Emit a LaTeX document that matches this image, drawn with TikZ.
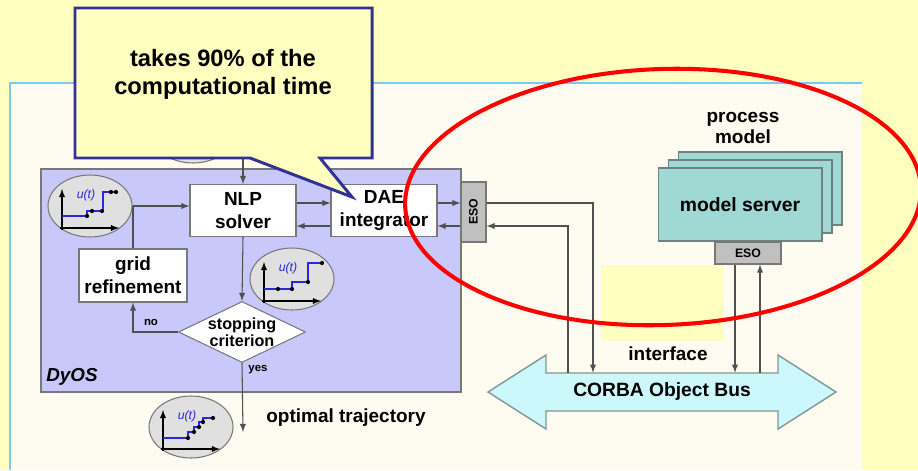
\documentclass[tikz,border=0pt]{standalone}
\usepackage{fontspec}
\setmainfont{Liberation Sans}
\usepackage{tikz}
\usetikzlibrary{shapes.geometric,arrows}
\definecolor{bgyellow}{RGB}{255,255,192}
\definecolor{panelcream}{RGB}{254,252,240}
\definecolor{panelblue}{RGB}{120,200,250}
\definecolor{dyoslilac}{RGB}{200,200,250}
\definecolor{boxgray}{RGB}{120,120,120}
\definecolor{linegray}{RGB}{80,80,80}
\definecolor{esogray}{RGB}{192,192,192}
\definecolor{plotgray}{RGB}{224,224,224}
\definecolor{serverteal}{RGB}{160,216,212}
\definecolor{serverline}{RGB}{110,130,130}
\definecolor{buscyan}{RGB}{204,248,252}
\definecolor{busline}{RGB}{130,150,150}
\definecolor{calloutblue}{RGB}{50,50,150}
\definecolor{utblue}{RGB}{40,40,220}

% small u(t) sketch: name, centre, step points, dots
\newcommand{\utplot}[4]{%
    \node[plotbg] (#1) at (#2) {};
    \begin{scope}[shift={(#2)}]
        \draw[axis,->] (-28,24) -- (-28,-17);
        \draw[axis,->] (-30,22) -- (29,22);
        \node[utlabel] at (-4,-11) {u(t)};
        \draw[stepline] #3;
        \foreach \p in {#4} \fill[black] (\p) circle[radius=1.2pt];
    \end{scope}}

\begin{document}
\begin{tikzpicture}[x=0.02cm,y=-0.02cm,>=latex,
    link/.style={draw=linegray,line width=0.6pt},
    box/.style={rectangle,draw=boxgray,fill=white,line width=0.6pt,minimum width=2.12cm,minimum height=1.04cm,inner sep=0pt,align=center,font=\bfseries\fontsize{10.8}{13}\selectfont},
    eso/.style={rectangle,draw=boxgray,fill=esogray,line width=0.6pt,inner sep=0pt,font=\bfseries\fontsize{7}{8}\selectfont},
    decide/.style={diamond,draw=boxgray,fill=white,line width=0.6pt,aspect=2.08,minimum width=2.54cm,minimum height=1.22cm,inner sep=-1.5pt,align=center,font=\bfseries\fontsize{9.2}{9.8}\selectfont},
    plotbg/.style={ellipse,draw=boxgray,fill=plotgray,line width=0.6pt,minimum width=1.68cm,minimum height=1.24cm,inner sep=0pt},
    axis/.style={draw=black,line width=0.6pt},
    stepline/.style={draw=utblue,line width=1.1pt},
    utlabel/.style={text=utblue,font=\itshape\fontsize{7}{8}\selectfont},
    server/.style={rectangle,draw=serverline,fill=serverteal,line width=0.6pt,minimum width=3.28cm,minimum height=1.46cm,inner sep=0pt},
    txt/.style={align=center,font=\bfseries\fontsize{10.8}{11.5}\selectfont},
    tiny/.style={font=\bfseries\fontsize{6.5}{7}\selectfont},
]
    \useasboundingbox (0,0) rectangle (918,470);
    \fill[bgyellow] (0,0) rectangle (918,470);
    \fill[panelcream] (10,83) rectangle (862,470);
    \draw[panelblue,line width=1.2pt] (10,470) -- (10,83) -- (862,83);

    % DyOS frame
    \draw[draw=boxgray,fill=dyoslilac,line width=0.8pt] (41,169) rectangle (461,392);
    \node[font=\bfseries\itshape\fontsize{10.7}{12}\selectfont] (dyos) at (72,377) {DyOS};

    \node[box] (nlp) at (243,210.5) {NLP\\solver};
    \node[box] (dae) at (384,210.5) {DAE\\integrator};
    \node[eso,minimum width=0.5cm,minimum height=1.2cm] (esoL) at (473.5,212) {\rotatebox{90}{ESO}};
    \node[box,minimum width=2.16cm,minimum height=1.06cm] (grid) at (133,275.5) {grid\\refinement};
    \node[decide] (stop) at (242,332) {stopping\\criterion};

    \utplot{plotA}{90,206}{(-28,10) -| (-3,5) -| (13,-14) -- (27,-14)}{{-3,10},{2,5},{12,5},{21,-14},{26,-14}}
    \utplot{plotB}{292,279}{(-28,10) -| (0,3) -| (16,-16) -- (30,-16)}{{-14,10},{0,10},{16,3},{30,-16}}
    \utplot{plotC}{191,427}{(-28,11) -| (-3,5) -| (3,0) -| (8,-5) -| (12,-9) -- (22,-9)}{{-3,11},{3,5},{8,0},{12,-5},{22,-9}}

    \coordinate (hi) at (0,203);
    \coordinate (lo) at (0,226);
    \coordinate (opt) at (243,432);
    \coordinate (feed) at (243,150);

    \draw[link,->] (nlp.east |- hi) -- (dae.west |- hi);
    \draw[link,->] (dae.west |- lo) -- (nlp.east |- lo);
    \draw[link,->] (dae.east |- hi) -- (esoL.west |- hi);
    \draw[link,->] (esoL.west |- lo) -- (dae.east |- lo);
    \draw[link,->] (plotA.east) -- (nlp.west |- plotA.east);
    \draw[link] (grid.north) -- (grid.north |- plotA.east);
    \draw[link,->] (nlp.south) -- (stop.north);
    \draw[link,->] (stop.west) -| (grid.south) node[tiny,pos=0.3,above] {no};
    \draw[link,->] (stop.south) -- (opt) node[tiny,pos=0.1,right] {yes};
    \node[txt] (opttraj) at (346,418) {optimal trajectory};

    % process model side
    \node[server] (srv3) at (760,188.5) {};
    \node[server] (srv2) at (750,196.5) {};
    \node[server,font=\bfseries\fontsize{11}{12}\selectfont] (srv) at (740,204.5) {model server};
    \node[txt] (procmodel) at (743,128) {process\\model};
    \node[eso,minimum width=1.32cm,minimum height=0.44cm] (esoR) at (748,253) {ESO};

    % bus
    \draw[draw=busline,fill=buscyan,line width=0.8pt] (488,392) -- (546,355) -- (546,373) -- (778,373) -- (778,355) -- (836,392) -- (778,429) -- (778,411) -- (546,411) -- (546,429) -- cycle;
    \node[txt,minimum width=4.64cm,minimum height=0.76cm,inner sep=0pt,font=\bfseries\fontsize{10.95}{12}\selectfont] (bus) at (662,392) {CORBA Object Bus};
    \node[txt] (iface) at (668,354) {interface};

    \coordinate (xa) at (593,0);
    \coordinate (xb) at (568,0);
    \coordinate (xc) at (735,0);
    \coordinate (xd) at (760,0);
    \draw[link,->] (esoL.east |- hi) -| (bus.north -| xa);
    \draw[link,->] (bus.north -| xb) |- (esoL.east |- lo);
    \draw[link,->] (esoR.south -| xc) -- (bus.north -| xc);
    \draw[link,->] (bus.north -| xd) -- (esoR.south -| xd);

    \fill[bgyellow] (601,265) rectangle (724,341);

    % callout
    \node[plotbg] (plot0) at (193,132) {};
    \draw[link,->] (feed) -- (nlp.north);
    \draw[draw=calloutblue,fill=bgyellow,line width=1.7pt,line join=miter]
        (75,8) -- (372,8) -- (372,158) -- (320,158) -- (352,197) -- (250,158) -- (75,158) -- cycle;
    \node[txt,font=\bfseries\fontsize{13.5}{16}\selectfont] (callout) at (223,74) {takes 90\% of the\\computational time};

    \draw[red,line width=2.3pt] (663,197) ellipse [x radius=258,y radius=128,rotate=2];
\end{tikzpicture}
\end{document}
